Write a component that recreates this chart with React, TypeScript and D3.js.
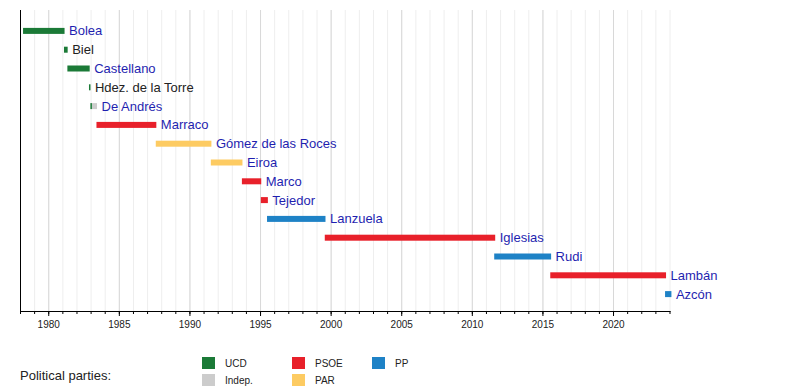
import React from "react";
import * as d3 from "d3";

// presidents, one row each
const names = [
  "Bolea",
  "Biel",
  "Castellano",
  "Hdez. de la Torre",
  "De Andrés",
  "Marraco",
  "Gómez de las Roces",
  "Eiroa",
  "Marco",
  "Tejedor",
  "Lanzuela",
  "Iglesias",
  "Rudi",
  "Lambán",
  "Azcón",
];
// linked names are blue on the original
const linked = [true, false, true, false, true, true, true, true, true, true, true, true, true, true, true];

// term segments: row index, start year, end year, party
const segRow = [0, 1, 2, 3, 4, 4, 5, 6, 7, 8, 9, 10, 11, 12, 13, 14];
const segStart = [1978.18, 1981.08, 1981.32, 1982.85, 1982.95, 1983.06, 1983.38, 1987.58, 1991.48, 1993.68, 1995.02, 1995.46, 1999.55, 2011.55, 2015.52, 2023.65];
const segEnd = [1981.12, 1981.34, 1982.9, 1982.95, 1983.06, 1983.42, 1987.62, 1991.52, 1993.72, 1995.05, 1995.52, 1999.6, 2011.62, 2015.58, 2023.72, 2024.1];
const segParty = ["UCD", "UCD", "UCD", "UCD", "UCD", "Indep.", "PSOE", "PAR", "PAR", "PSOE", "PSOE", "PP", "PSOE", "PP", "PSOE", "PP"];

const parties = ["UCD", "Indep.", "PSOE", "PAR", "PP"];
const partyColors = ["#1b7a37", "#cccccc", "#e8202a", "#fdcb62", "#1e82c6"];

const yearTicks = [1980, 1985, 1990, 1995, 2000, 2005, 2010, 2015, 2020];

const W = 800;
const H = 390;

export default function App() {
  const x = d3.scaleLinear().domain([1978, 2024]).range([20.5, 670]);
  const y = d3
    .scaleBand<number>()
    .domain(d3.range(names.length))
    .range([21.5, 303.5]);
  const color = d3.scaleOrdinal<string, string>().domain(parties).range(partyColors);
  const minorYears = d3.range(1978, 2025);
  const axisY = 311;
  const top = 10;
  const barH = 6;

  // end of each row, for label placement
  const rowEnd = names.map((_, i) =>
    d3.max(segEnd.filter((_, j) => segRow[j] === i)) as number
  );

  const legendCols = [202, 292, 372];
  const legendRows = [357, 374];
  const legendPos = [
    [0, 0],
    [0, 1],
    [1, 0],
    [1, 1],
    [2, 0],
  ];

  return (
    <svg
      width={W}
      height={H}
      style={{ position: "absolute", left: 0, top: 0, fontFamily: "Liberation Sans, Arial, sans-serif" }}
    >
      <rect width={W} height={H} fill="#fff" />
      {/* minor grid */}
      {minorYears.map((yr) => (
        <line
          key={"mg" + yr}
          x1={x(yr)}
          x2={x(yr)}
          y1={top}
          y2={axisY}
          stroke="#eeeeee"
          strokeWidth={1}
        />
      ))}
      {/* major grid */}
      {yearTicks.map((yr) => (
        <line
          key={"g" + yr}
          x1={x(yr)}
          x2={x(yr)}
          y1={top}
          y2={axisY}
          stroke="#d8d8d8"
          strokeWidth={1}
        />
      ))}
      {/* bars */}
      {segRow.map((r, i) => (
        <rect
          key={"b" + i}
          x={x(segStart[i])}
          width={Math.max(1.5, x(segEnd[i]) - x(segStart[i]))}
          y={(y(r) as number) + y.bandwidth() / 2 - barH / 2}
          height={barH}
          fill={color(segParty[i])}
        />
      ))}
      {/* labels */}
      {names.map((n, i) => (
        <text
          key={"l" + i}
          x={x(rowEnd[i]) + 4.5}
          y={(y(i) as number) + y.bandwidth() / 2}
          dy="0.35em"
          fontSize={13}
          fill={linked[i] ? "#1f1fb0" : "#222"}
        >
          {n}
        </text>
      ))}
      {/* axes */}
      <line x1={20.5} x2={20.5} y1={top} y2={axisY} stroke="#000" />
      <line x1={20} x2={670.5} y1={axisY + 0.5} y2={axisY + 0.5} stroke="#000" />
      {minorYears.map((yr) => (
        <line
          key={"mt" + yr}
          x1={x(yr)}
          x2={x(yr)}
          y1={axisY}
          y2={axisY + 3}
          stroke="#000"
        />
      ))}
      {yearTicks.map((yr) => (
        <g key={"t" + yr}>
          <line x1={x(yr)} x2={x(yr)} y1={axisY} y2={axisY + 5} stroke="#000" />
          <text
            x={x(yr)}
            y={328}
            textAnchor="middle"
            fontSize={10}
            fontFamily="Liberation Sans Narrow, Arial Narrow, sans-serif"
            fill="#222"
          >
            {yr}
          </text>
        </g>
      ))}
      {/* legend */}
      <text
        x={20}
        y={380}
        fontSize={13}
        fontFamily="Liberation Sans Narrow, Arial Narrow, sans-serif"
        fill="#222"
      >
        Political parties:
      </text>
      {parties.map((p, i) => {
        const [c, r] = legendPos[i];
        return (
          <g key={"lg" + p}>
            <rect
              x={legendCols[c]}
              y={legendRows[r]}
              width={13}
              height={12}
              fill={partyColors[i]}
            />
            <text
              x={legendCols[c] + 23}
              y={legendRows[r] + 10}
              fontSize={10}
              fontFamily="Liberation Sans Narrow, Arial Narrow, sans-serif"
              fill="#222"
            >
              {p}
            </text>
          </g>
        );
      })}
    </svg>
  );
}
